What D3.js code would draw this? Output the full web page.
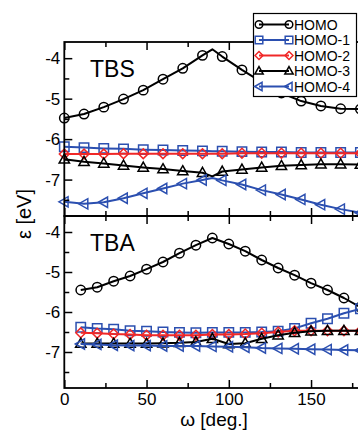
<!DOCTYPE html>
<html>
<head>
<meta charset="utf-8">
<script src="https://cdn.jsdelivr.net/npm/d3@7"></script>
<style>
  html, body { margin: 0; padding: 0; background: #fff; }
  svg { display: block; }
  text { font-family: "Liberation Sans", Arial, Helvetica, sans-serif; fill: #000; }
</style>
</head>
<body>
<svg id="chart" width="358" height="432"></svg>
<script>
// Orbital energies (eV) versus torsion angle ω (degrees)
const seriesNames = ["HOMO", "HOMO-1", "HOMO-2", "HOMO-3", "HOMO-4"];

// TBS: sampled every 12°, plus the 90° turning point (line vertex only)
const tbsAngles = [0, 12, 24, 36, 48, 60, 72, 84, 90, 96, 108, 120, 132, 144, 156, 168, 180];
const tbsHomo  = [-5.48, -5.38, -5.21, -5.01, -4.79, -4.52, -4.25, -3.93, -3.78, -3.96, -4.29, -4.59, -4.86, -5.06, -5.18, -5.25, -5.26];
const tbsHomo1 = [-6.19, -6.21, -6.23, -6.24, -6.26, -6.27, -6.28, -6.29, -6.3, -6.3, -6.31, -6.32, -6.32, -6.33, -6.33, -6.33, -6.33];
const tbsHomo2 = [-6.37, -6.37, -6.37, -6.36, -6.36, -6.36, -6.36, -6.36, -6.36, -6.36, -6.35, -6.35, -6.35, -6.35, -6.35, -6.35, -6.35];
const tbsHomo3 = [-6.5, -6.56, -6.6, -6.65, -6.7, -6.74, -6.79, -6.83, -6.92, -6.8, -6.75, -6.7, -6.66, -6.64, -6.62, -6.62, -6.63];
const tbsHomo4 = [-7.55, -7.6, -7.56, -7.46, -7.34, -7.22, -7.1, -7.01, -6.96, -7.02, -7.12, -7.26, -7.37, -7.49, -7.62, -7.73, -7.82];

// TBA: sampled every 10°
const tbaAngles = [10, 20, 30, 40, 50, 60, 70, 80, 90, 100, 110, 120, 130, 140, 150, 160, 170, 180];
const tbaHomo  = [-5.45, -5.38, -5.23, -5.1, -4.93, -4.75, -4.53, -4.33, -4.15, -4.3, -4.48, -4.7, -4.9, -5.08, -5.28, -5.45, -5.65, -5.88];
const tbaHomo1 = [-6.38, -6.41, -6.43, -6.47, -6.48, -6.5, -6.51, -6.52, -6.51, -6.51, -6.51, -6.5, -6.48, -6.41, -6.28, -6.17, -6.03, -5.92];
const tbaHomo2 = [-6.52, -6.53, -6.55, -6.56, -6.58, -6.58, -6.58, -6.58, -6.56, -6.56, -6.55, -6.53, -6.5, -6.47, -6.47, -6.47, -6.47, -6.47];
const tbaHomo3 = [-6.79, -6.79, -6.79, -6.79, -6.79, -6.78, -6.77, -6.75, -6.67, -6.8, -6.78, -6.67, -6.58, -6.52, -6.48, -6.47, -6.47, -6.47];
const tbaHomo4 = [-6.8, -6.81, -6.83, -6.84, -6.84, -6.85, -6.85, -6.85, -6.86, -6.87, -6.88, -6.9, -6.91, -6.92, -6.93, -6.94, -6.95, -6.96];

const xTicksMajor = [0, 50, 100, 150];
const xTicksMinor = [25, 75, 125, 175];
const yTicksMajor = [-4, -5, -6, -7];
const yTicksMinor = [-4.5, -5.5, -6.5, -7.5];
const yDomain = [-7.9, -3.6];
const xDomain = [0, 180];

const BLUE = "#2b4fb0", RED = "#f02828", BLACK = "#000";
const styles = [
  { color: BLACK, shape: "circle" },
  { color: BLUE,  shape: "square" },
  { color: RED,   shape: "diamond" },
  { color: BLACK, shape: "triUp" },
  { color: BLUE,  shape: "triLeft" }
];

function markerPath(shape, s) {
  switch (shape) {
    case "circle":
      return `M${s},0A${s},${s},0,1,1,${-s},0A${s},${s},0,1,1,${s},0Z`;
    case "square":
      return `M${-s},${-s}H${s}V${s}H${-s}Z`;
    case "diamond":
      return `M0,${-s * 1.05}L${s * 1.05},0L0,${s * 1.05}L${-s * 1.05},0Z`;
    case "triUp":
      return `M0,${-s * 1.15}L${s * 1.1},${s * 0.8}L${-s * 1.1},${s * 0.8}Z`;
    case "triLeft":
      return `M${-s * 1.15},0L${s * 0.8},${-s * 1.1}L${s * 0.8},${s * 1.1}Z`;
  }
}

const svg = d3.select("#chart");
const x = d3.scaleLinear().domain(xDomain).range([64.3, 360.4]);

const panels = [
  { name: "TBS", top: 42, bottom: 216, angles: tbsAngles,
    values: [tbsHomo, tbsHomo1, tbsHomo2, tbsHomo3, tbsHomo4],
    markerAt: a => a % 12 === 0, labels: false },
  { name: "TBA", top: 216, bottom: 388, angles: tbaAngles,
    values: [tbaHomo, tbaHomo1, tbaHomo2, tbaHomo3, tbaHomo4],
    markerAt: () => true, labels: true }
];

const fmt = d => String(d);

panels.forEach(p => {
  const y = d3.scaleLinear().domain(yDomain).range([p.bottom, p.top]);
  const g = svg.append("g");

  // series lines and markers
  p.values.forEach((vals, i) => {
    const st = styles[i];
    const pts = p.angles.map((a, j) => ({ a, v: vals[j] }));
    g.append("path")
      .datum(pts)
      .attr("fill", "none")
      .attr("stroke", st.color)
      .attr("stroke-width", 2)
      .attr("stroke-linejoin", "round")
      .attr("d", d3.line().x(d => x(d.a)).y(d => y(d.v)));
    g.selectAll(null)
      .data(pts.filter(d => p.markerAt(d.a)))
      .join("path")
      .attr("transform", d => `translate(${x(d.a)},${y(d.v)})`)
      .attr("d", markerPath(st.shape, 4.7))
      .attr("fill", "none")
      .attr("stroke", st.color)
      .attr("stroke-width", 1.5);
  });

  // axes: ticks point inward on all visible sides
  const axisStyle = sel => {
    sel.select(".domain").remove();
    sel.selectAll(".tick line").attr("stroke", "#000").attr("stroke-width", 1.5);
    sel.selectAll(".tick text").style("font-size", "17px")
      .style("font-family", "'Liberation Sans', Arial, sans-serif");
  };

  g.append("g").attr("transform", `translate(${x(0)},0)`)
    .call(d3.axisLeft(y).tickValues(yTicksMajor).tickSize(-8).tickPadding(4).tickFormat(fmt))
    .call(axisStyle);
  g.append("g").attr("transform", `translate(${x(0)},0)`)
    .call(d3.axisLeft(y).tickValues(yTicksMinor).tickSize(-5).tickFormat(""))
    .call(axisStyle);

  g.append("g").attr("transform", `translate(0,${p.top})`)
    .call(d3.axisTop(x).tickValues(xTicksMajor).tickSize(-8).tickFormat(""))
    .call(axisStyle);
  g.append("g").attr("transform", `translate(0,${p.top})`)
    .call(d3.axisTop(x).tickValues(xTicksMinor).tickSize(-5).tickFormat(""))
    .call(axisStyle);

  g.append("g").attr("transform", `translate(0,${p.bottom})`)
    .call(d3.axisBottom(x).tickValues(xTicksMajor).tickSize(-8).tickPadding(5)
      .tickFormat(p.labels ? fmt : ""))
    .call(axisStyle);
  g.append("g").attr("transform", `translate(0,${p.bottom})`)
    .call(d3.axisBottom(x).tickValues(xTicksMinor).tickSize(-5).tickFormat(""))
    .call(axisStyle);

  // frame
  g.append("rect")
    .attr("x", x(xDomain[0])).attr("y", p.top)
    .attr("width", x(xDomain[1]) - x(xDomain[0])).attr("height", p.bottom - p.top)
    .attr("fill", "none").attr("stroke", "#000").attr("stroke-width", 1.8);

  g.append("text")
    .attr("x", 90).attr("y", p.top + 35)
    .style("font-size", "23px")
    .text(p.name);
});

// axis titles
svg.append("text")
  .attr("transform", "translate(31,214) rotate(-90)")
  .attr("text-anchor", "middle")
  .style("font-size", "20px")
  .text("ε [eV]");

svg.append("text")
  .attr("x", 214).attr("y", 426)
  .attr("text-anchor", "middle")
  .style("font-size", "19px")
  .text("ω [deg.]");

// legend
const lg = svg.append("g");
lg.append("rect")
  .attr("x", 253.5).attr("y", 13.5).attr("width", 103).attr("height", 83)
  .attr("fill", "#fff").attr("stroke", "#000").attr("stroke-width", 1.2);
seriesNames.forEach((name, i) => {
  const yy = 24.5 + i * 15.5;
  const st = styles[i];
  lg.append("line").attr("x1", 259).attr("x2", 289).attr("y1", yy).attr("y2", yy)
    .attr("stroke", st.color).attr("stroke-width", 2);
  [259, 289].forEach(xx => {
    lg.append("path")
      .attr("transform", `translate(${xx},${yy})`)
      .attr("d", markerPath(st.shape, 3.8))
      .attr("fill", "none").attr("stroke", st.color).attr("stroke-width", 1.5);
  });
  lg.append("text").attr("x", 294).attr("y", yy + 5)
    .style("font-size", "14px")
    .text(name);
});
</script>
</body>
</html>
